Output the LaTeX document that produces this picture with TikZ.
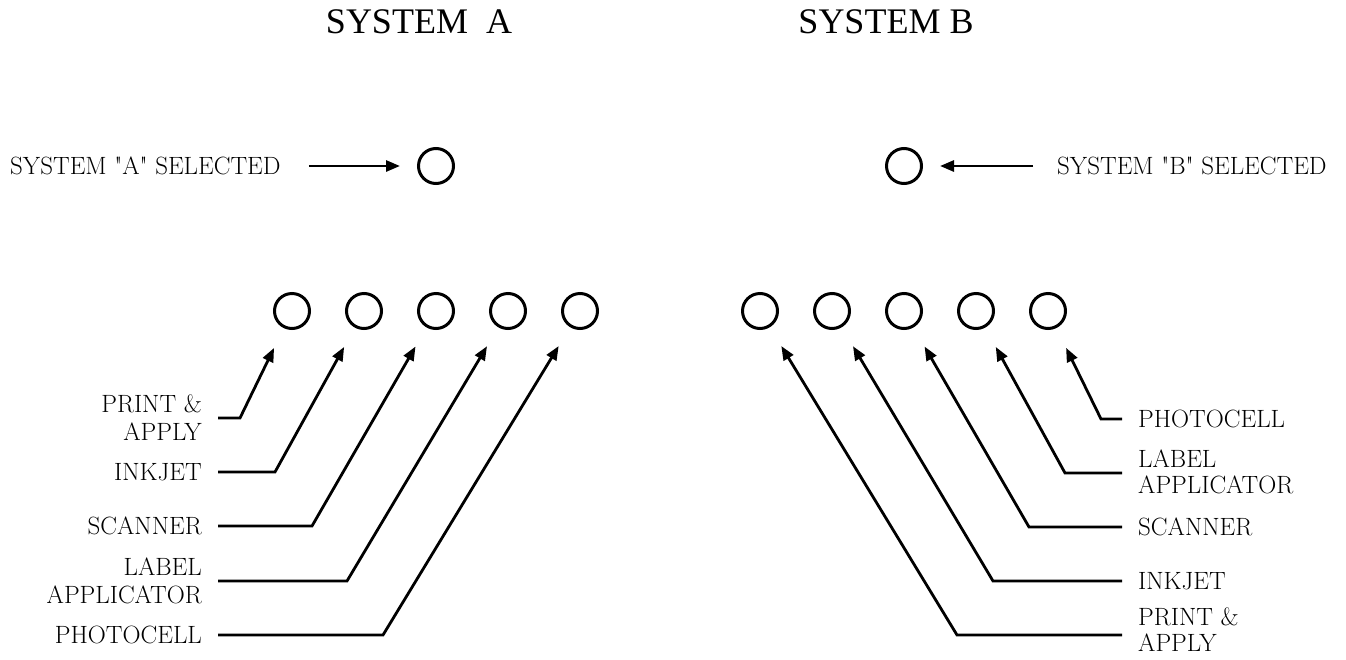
\documentclass[tikz,border=0pt]{standalone}
\usepackage{fontspec}
\newfontfamily\titlefont{Liberation Serif}
\usetikzlibrary{arrows.meta}
\begin{document}
\begin{tikzpicture}[x=1pt,y=-1pt,
  lbl/.style={inner sep=0pt, font=\fontsize{25}{28}\selectfont},
  lblr/.style={inner sep=0pt, font=\fontsize{25}{26}\selectfont},
  ttl/.style={inner sep=0pt, font=\titlefont\fontsize{36}{40}\selectfont},
  lamp/.style={circle, draw, line width=3pt, minimum size=35pt, inner sep=0pt},
  lead/.style={line width=2.8pt, -{Triangle[length=14pt,width=11pt]}, shorten >=22pt},
  selarrow/.style={line width=2.8pt, -{Triangle[length=14pt,width=11pt]}, shorten >=17pt},
  ]
\useasboundingbox (0,0) rectangle (1346,659);

% titles
\node[ttl, anchor=base] (titA) at (419,33) {SYSTEM\ \ A};
\node[ttl, anchor=base] (titB) at (886,33) {SYSTEM B};

% selected lamps
\node[lamp] (sA) at (436,166) {};
\node[lamp] (sB) at (904,166) {};
\node[lbl, anchor=west] (selA) at (10,166) {SYSTEM \textquotedbl A\textquotedbl{} SELECTED};
\node[lbl, anchor=west] (selB) at (1057,166) {SYSTEM \textquotedbl B\textquotedbl{} SELECTED};
\draw[selarrow] ([xshift=28pt]selA.east) -- (sA);
\draw[selarrow] ([xshift=-24pt]selB.west) -- (sB);

% system A lamps
\foreach \i/\x in {1/292,2/364,3/436,4/508,5/580}
  \node[lamp] (a\i) at (\x,311) {};
% system B lamps
\foreach \i/\x in {1/760,2/832,3/904,4/976,5/1048}
  \node[lamp] (b\i) at (\x,311) {};

% system A labels
\node[lbl, anchor=east, align=right] (la1) at (202,418) {PRINT \&\\APPLY};
\node[lbl, anchor=east] (la2) at (202,472) {INKJET};
\node[lbl, anchor=east] (la3) at (202,526) {SCANNER};
\node[lbl, anchor=east, align=right] (la4) at (202,581) {LABEL\\APPLICATOR};
\node[lbl, anchor=east] (la5) at (202,635) {PHOTOCELL};

% system B labels
\node[lblr, anchor=west] (lb5) at (1138,419) {PHOTOCELL};
\node[lblr, anchor=west, align=left] (lb4) at (1138,472) {LABEL\\APPLICATOR};
\node[lblr, anchor=west] (lb3) at (1138,527) {SCANNER};
\node[lblr, anchor=west] (lb2) at (1138,581) {INKJET};
\node[lblr, anchor=west, align=left] (lb1) at (1138,630) {PRINT \&\\APPLY};

% elbows
\coordinate (ea1) at (240,418);
\coordinate (ea2) at (275,472);
\coordinate (ea3) at (312,526);
\coordinate (ea4) at (347,581);
\coordinate (ea5) at (383,635);
\coordinate (eb5) at (1101,419);
\coordinate (eb4) at (1065,473);
\coordinate (eb3) at (1029,527);
\coordinate (eb2) at (993,581);
\coordinate (eb1) at (957,635);

% leaders
\foreach \i in {1,...,5}{
  \draw[lead] ([xshift=16pt]la\i.east |- ea\i) -- (ea\i) -- (a\i);
  \draw[lead] ([xshift=-16pt]lb\i.west |- eb\i) -- (eb\i) -- (b\i);
}
\end{tikzpicture}
\end{document}
